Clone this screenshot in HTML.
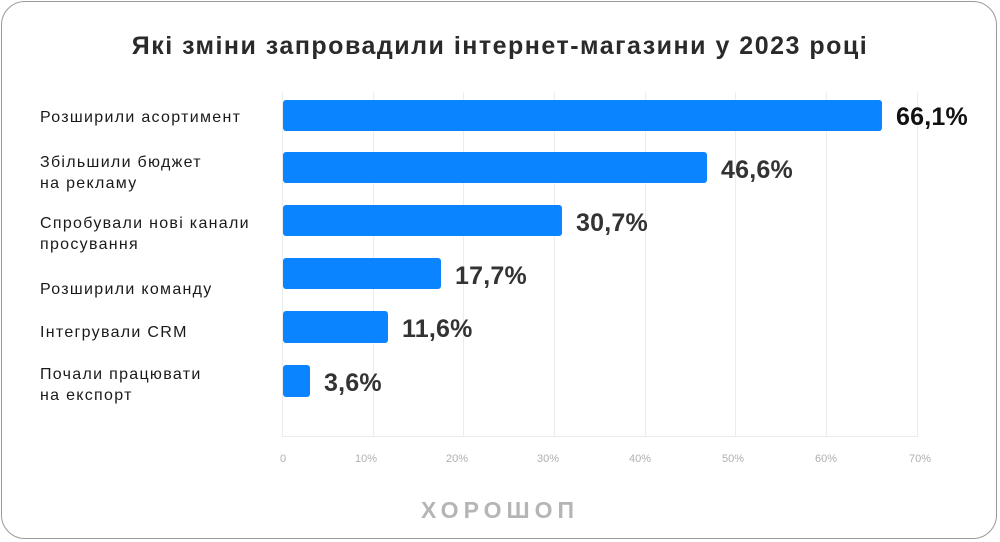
<!DOCTYPE html>
<html><head><meta charset="utf-8"><style>
body{margin:0;background:#fff;font-family:"Liberation Sans",sans-serif;}
.card{position:absolute;left:1px;top:1px;width:996px;height:538px;border:1px solid #9a9a9a;border-radius:24px;box-sizing:border-box;}
.t{position:absolute;white-space:nowrap;}
</style></head><body>
<div class="card"></div>
<div class="t" style="left:0;width:1000px;text-align:center;top:32px;font-size:25px;letter-spacing:1.5px;font-weight:bold;color:#2a2a2a;">Які зміни запровадили інтернет-магазини у 2023 році</div>
<svg style="position:absolute;left:0;top:0" width="1000" height="542">
<g stroke="#ececec" stroke-width="1">
<line x1="282.5" y1="92" x2="282.5" y2="437"/>
<line x1="373.5" y1="92" x2="373.5" y2="437"/>
<line x1="463.5" y1="92" x2="463.5" y2="437"/>
<line x1="554.5" y1="92" x2="554.5" y2="437"/>
<line x1="645.5" y1="92" x2="645.5" y2="437"/>
<line x1="735.5" y1="92" x2="735.5" y2="437"/>
<line x1="826.5" y1="92" x2="826.5" y2="437"/>
<line x1="917.5" y1="92" x2="917.5" y2="437"/>
<line x1="282" y1="436.5" x2="918" y2="436.5"/>
</g>
<g fill="#0a84ff">
<rect x="283" y="100" width="599" height="31" rx="3"/>
<rect x="283" y="152" width="424" height="31" rx="3"/>
<rect x="283" y="205" width="279" height="31" rx="3"/>
<rect x="283" y="258" width="158" height="31" rx="3"/>
<rect x="283" y="311" width="105" height="32" rx="3"/>
<rect x="283" y="365" width="27" height="32" rx="3"/>
</g>
<g font-family="Liberation Sans" font-size="25" font-weight="bold" fill="#333" letter-spacing="0.2">
<text x="896" y="125" fill="#111">66,1%</text>
<text x="721" y="178">46,6%</text>
<text x="576" y="231">30,7%</text>
<text x="455" y="284">17,7%</text>
<text x="402" y="337">11,6%</text>
<text x="324" y="391">3,6%</text>
</g>
<g font-family="Liberation Sans" font-size="16" fill="#1a1a1a" letter-spacing="1.3">
<text x="40" y="122">Розширили асортимент</text>
<text x="40" y="167">Збільшили бюджет</text>
<text x="40" y="188">на рекламу</text>
<text x="40" y="228">Спробували нові канали</text>
<text x="40" y="249">просування</text>
<text x="40" y="294">Розширили команду</text>
<text x="40" y="337">Інтегрували CRM</text>
<text x="40" y="379">Почали працювати</text>
<text x="40" y="400">на експорт</text>
</g>
<g font-family="Liberation Sans" font-size="11" fill="#b0b0b0" text-anchor="middle">
<text x="283" y="462">0</text>
<text x="366" y="462">10%</text>
<text x="457" y="462">20%</text>
<text x="548" y="462">30%</text>
<text x="640" y="462">40%</text>
<text x="733" y="462">50%</text>
<text x="826" y="462">60%</text>
<text x="920" y="462">70%</text>
</g>
<text x="500" y="518" text-anchor="middle" font-family="Liberation Sans" font-size="23" font-weight="bold" fill="#b5b5b5" letter-spacing="5">ХОРОШОП</text>
</svg>
</body></html>
